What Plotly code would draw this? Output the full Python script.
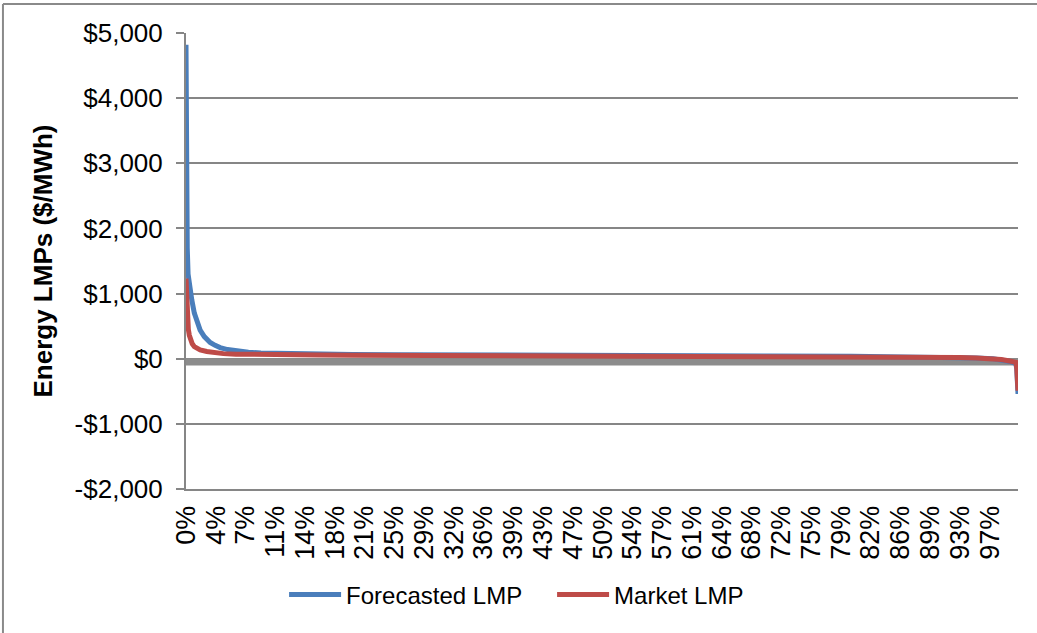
import plotly.graph_objects as go

# Price duration curves: share of hours (%) vs. LMP ($/MWh)
forecast_pct = [0, 0.03, 0.08, 0.15, 0.25, 0.45, 0.7, 1.0, 1.4, 1.7, 2.2, 2.9, 3.5, 4.1,
                5.0, 6.0, 7.5, 9.0, 12, 16, 20, 25, 30, 40, 50, 60, 70, 80, 85, 90,
                93, 95, 97, 98, 99, 99.5, 99.75, 99.85, 99.93, 100]
forecast_lmp = [4820, 3000, 2200, 1700, 1300, 1080, 900, 700, 520, 440, 340, 250, 205, 170,
                140, 120, 100, 88, 78, 70, 66, 62, 58, 53, 49, 46, 42, 38, 34, 27,
                19, 11, -2, -17, -42, -62, -78, -160, -320, -540]

market_pct = [0, 0.04, 0.1, 0.18, 0.28, 0.4, 0.55, 0.75, 1.0, 1.3, 1.7, 2.5, 3.5, 4.5,
              6.0, 9.0, 12, 16, 20, 25, 30, 40, 50, 60, 70, 80, 85, 90,
              93, 95, 97, 98, 99, 99.5, 99.75, 99.85, 99.93, 100]
market_lmp = [1230, 1000, 750, 560, 450, 360, 290, 230, 185, 160, 135, 110, 90, 78,
              70, 62, 60, 57, 55, 53, 51, 48, 46, 44, 41, 38, 35, 28,
              20, 12, 0, -12, -35, -48, -55, -140, -300, -490]

# Flat reference series drawn in grey
base_pct = [0, 100]
base_lmp = [-50, -50]

x_tick_labels = ["0%", "4%", "7%", "11%", "14%", "18%", "21%", "25%", "29%", "32%",
                 "36%", "39%", "43%", "47%", "50%", "54%", "57%", "61%", "64%", "68%",
                 "72%", "75%", "79%", "82%", "86%", "89%", "93%", "97%"]
y_tick_vals = [-2000, -1000, 0, 1000, 2000, 3000, 4000, 5000]
y_tick_labels = ["-$2,000", "-$1,000", "$0", "$1,000", "$2,000", "$3,000", "$4,000", "$5,000"]

X_STEP = 3.578  # category-label spacing in percent
x_tick_vals = [i * X_STEP for i in range(len(x_tick_labels))]

FONT = "Liberation Sans, Arial, sans-serif"
GRID = "#868686"

fig = go.Figure()
fig.add_trace(go.Scatter(x=base_pct, y=base_lmp, mode="lines", showlegend=False,
                         line=dict(color="#8c8c8c", width=7), hoverinfo="skip"))
fig.add_trace(go.Scatter(x=forecast_pct, y=forecast_lmp, mode="lines", name="Forecasted LMP",
                         line=dict(color="#4a7ebb", width=5)))
fig.add_trace(go.Scatter(x=market_pct, y=market_lmp, mode="lines", name="Market LMP",
                         line=dict(color="#be4b48", width=5)))

fig.update_layout(
    width=1037, height=633,
    margin=dict(l=186, r=19, t=33, b=144),
    paper_bgcolor="white", plot_bgcolor="white",
    font=dict(family=FONT, size=24, color="#000000"),
    showlegend=True,
    legend=dict(orientation="h", x=0.44, xanchor="center", y=-0.232, yanchor="middle",
                font=dict(size=24), itemwidth=52, entrywidth=201, tracegroupgap=0),
    xaxis=dict(range=[0, 100], tickmode="array", tickvals=x_tick_vals, ticktext=x_tick_labels,
               tickangle=-90, showgrid=False, zeroline=False, showline=True,
               linecolor=GRID, linewidth=2, ticks="", ticklabelstandoff=4,
               tickfont=dict(size=27)),
    yaxis=dict(range=[-2000, 5000], tickmode="array", tickvals=y_tick_vals, ticktext=y_tick_labels,
               showgrid=True, gridcolor=GRID, gridwidth=2, zeroline=False,
               showline=True, linecolor=GRID, linewidth=2, ticks="outside", ticklen=8,
               tickcolor=GRID, tickwidth=2, ticklabelstandoff=8,
               tickfont=dict(size=26),
               title=dict(text="<b>Energy LMPs ($/MWh)</b>", font=dict(size=26), standoff=15)),
    shapes=[
        dict(type="line", xref="paper", yref="paper", x0=-0.22, x1=1.1, y0=1.0636, y1=1.0636,
             line=dict(color="#8a8a8a", width=2)),
        dict(type="line", xref="paper", yref="paper", x0=-0.22, x1=-0.22, y0=1.0636, y1=-0.4,
             line=dict(color="#8a8a8a", width=2)),
    ],
)

fig.write_html("out.html")
